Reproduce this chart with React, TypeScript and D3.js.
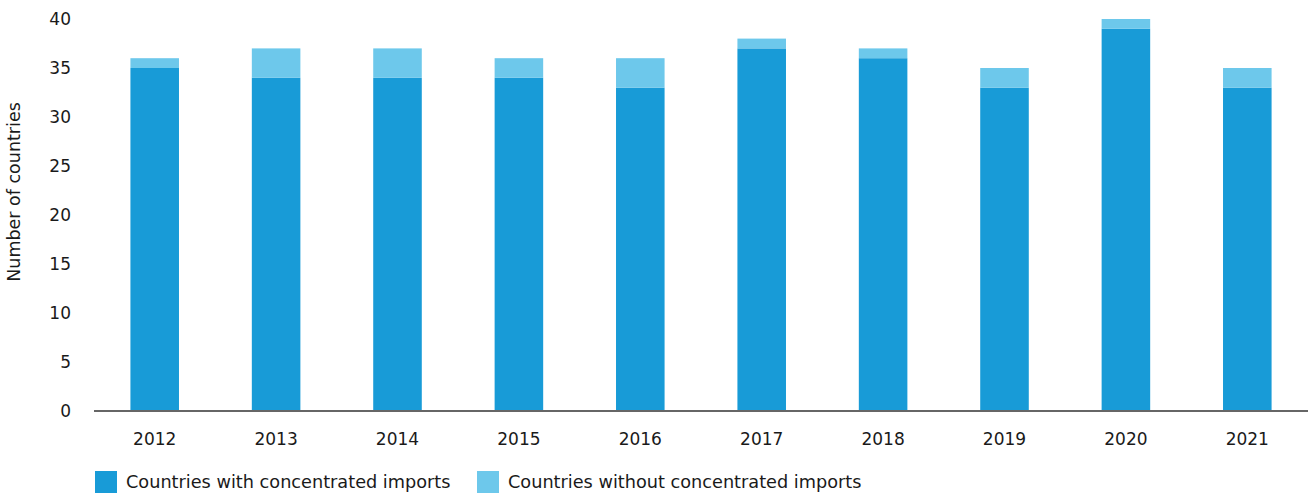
import React from "react";
import * as d3 from "d3";

const years = ["2012", "2013", "2014", "2015", "2016", "2017", "2018", "2019", "2020", "2021"];
const withConcentrated = [35, 34, 34, 34, 33, 37, 36, 33, 39, 33];
const withoutConcentrated = [1, 3, 3, 2, 3, 1, 1, 2, 1, 2];
const yTicks = [0, 5, 10, 15, 20, 25, 30, 35, 40];
const seriesNames = ["Countries with concentrated imports", "Countries without concentrated imports"];
const colors = ["#189BD7", "#6DC8EB"];

const W = 1311;
const H = 494;
const FONT = "'DejaVu Sans', sans-serif";

export default function App() {
  const x = d3.scaleBand<string>().domain(years).range([94, 1308]).paddingInner(0.6).paddingOuter(0.3);
  const y = d3.scaleLinear().domain([0, 40]).range([411, 19]);
  const rows = years.map((yr, i) => ({ yr, a: withConcentrated[i], b: withoutConcentrated[i] }));
  const stack = d3.stack<any>().keys(["a", "b"])(rows as any);

  return (
    <svg width={W} height={H} style={{ position: "absolute", left: 0, top: 0, fontFamily: FONT }}>
      {stack.map((layer, li) => (
        <g key={li} fill={colors[li]}>
          {layer.map((d, i) => (
            <rect key={i} x={x(years[i])} width={x.bandwidth()} y={y(d[1])} height={y(d[0]) - y(d[1])} />
          ))}
        </g>
      ))}
      <line x1={94} x2={1308} y1={y(0)} y2={y(0)} stroke="#666" strokeWidth={2} />
      {yTicks.map((t) => (
        <text key={t} x={71} y={y(t)} dy="0.35em" textAnchor="end" fontSize={17} fill="#1a1a1a">
          {t}
        </text>
      ))}
      {years.map((yr) => (
        <text key={yr} x={(x(yr) as number) + x.bandwidth() / 2} y={445} textAnchor="middle" fontSize={17} fill="#1a1a1a">
          {yr}
        </text>
      ))}
      <text transform={`translate(20,192) rotate(-90)`} textAnchor="middle" fontSize={17.5} fill="#1a1a1a">
        Number of countries
      </text>
      {seriesNames.map((n, i) => {
        const lx = i === 0 ? 95 : 477;
        return (
          <g key={n}>
            <rect x={lx} y={471} width={22} height={22} fill={colors[i]} />
            <text x={lx + 31} y={488} fontSize={17.7} fill="#1a1a1a">
              {n}
            </text>
          </g>
        );
      })}
    </svg>
  );
}
